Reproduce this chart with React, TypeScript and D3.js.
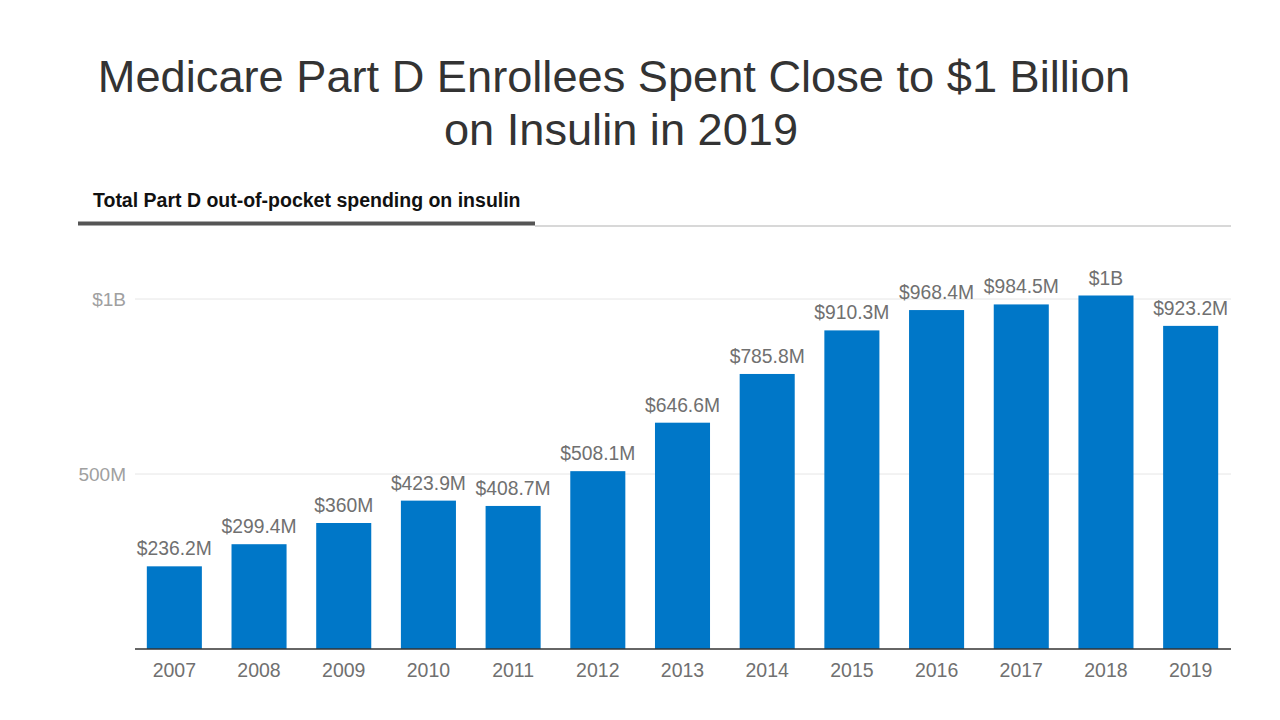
import React from "react";
import * as d3 from "d3";

const years = ["2007","2008","2009","2010","2011","2012","2013","2014","2015","2016","2017","2018","2019"];
const spending = [236.2, 299.4, 360, 423.9, 408.7, 508.1, 646.6, 785.8, 910.3, 968.4, 984.5, 1010, 923.2];
const valueLabels = ["$236.2M","$299.4M","$360M","$423.9M","$408.7M","$508.1M","$646.6M","$785.8M","$910.3M","$968.4M","$984.5M","$1B","$923.2M"];
const yTicks = [500, 1000];
const yTickLabels = ["500M", "$1B"];
const titleLines = ["Medicare Part D Enrollees Spent Close to $1 Billion", "on Insulin in 2019"];
const subtitle = "Total Part D out-of-pocket spending on insulin";

export default function App() {
  const W = 1280, H = 720;
  const x = d3.scaleBand<string>().domain(years).range([132, 1233]).paddingInner(0.35).paddingOuter(0.175);
  const y = d3.scaleLinear().domain([0, 1000]).range([649, 299]);
  const font = "'Liberation Sans', Arial, sans-serif";
  return (
    <svg width={W} height={H} style={{ position: "absolute", left: 0, top: 0, background: "#fff" }} fontFamily={font}>
      <text x={614} y={92} textAnchor="middle" fontSize={45.2} fill="#333">{titleLines[0]}</text>
      <text x={621} y={145} textAnchor="middle" fontSize={45.2} fill="#333">{titleLines[1]}</text>
      <text x={93} y={207} fontSize={19.5} fontWeight="bold" fill="#111">{subtitle}</text>
      <line x1={535} x2={1231} y1={226} y2={226} stroke="#d8d8d8" strokeWidth={2} />
      <rect x={78} y={221.5} width={457} height={4} fill="#555" />
      {yTicks.map((t, i) => (
        <g key={t}>
          <line x1={135} x2={1231} y1={y(t)} y2={y(t)} stroke="#e6e6e6" strokeWidth={1} />
          <text x={126} y={y(t) + 7} textAnchor="end" fontSize={19} fill="#a0a0a0">{yTickLabels[i]}</text>
        </g>
      ))}
      {years.map((yr, i) => (
        <g key={yr}>
          <rect x={x(yr)} y={y(spending[i])} width={x.bandwidth()} height={649 - y(spending[i])} fill="#0077c8" />
          <text x={(x(yr) as number) + x.bandwidth() / 2} y={y(spending[i]) - 11} textAnchor="middle" fontSize={19.3} fill="#707070">{valueLabels[i]}</text>
          <text x={(x(yr) as number) + x.bandwidth() / 2} y={677} textAnchor="middle" fontSize={19.5} fill="#707070">{yr}</text>
        </g>
      ))}
      <line x1={135} x2={1231} y1={649} y2={649} stroke="#333" strokeWidth={1.5} />
    </svg>
  );
}
